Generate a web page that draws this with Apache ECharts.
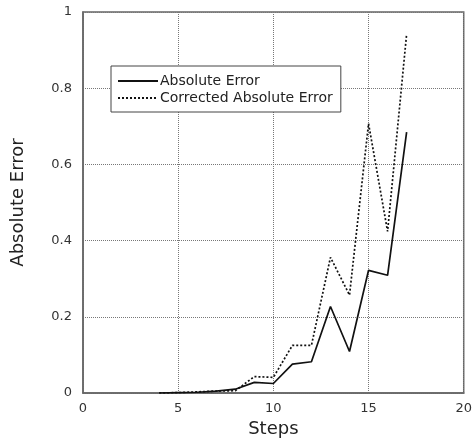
<!DOCTYPE html>
<html>
<head>
<meta charset="utf-8">
<script src="https://cdn.jsdelivr.net/npm/echarts@6/dist/echarts.min.js"></script>
<style>
  html, body { margin: 0; padding: 0; background: #fff; }
  #chart { width: 475px; height: 443px; }
</style>
</head>
<body>
<div id="chart"></div>
<script>
  // 数据
  const steps = [4, 5, 6, 7, 8, 9, 10, 11, 12, 13, 14, 15, 16, 17];
  const absError = [0, 0.001, 0.002, 0.005, 0.010, 0.028, 0.025, 0.076, 0.082, 0.227, 0.109, 0.322, 0.309, 0.685];
  const correctedError = [0, 0.001, 0.003, 0.005, 0.006, 0.043, 0.041, 0.125, 0.125, 0.356, 0.257, 0.707, 0.424, 0.942];
  const seriesNames = ['Absolute Error', 'Corrected Absolute Error'];

  const font = 'DejaVu Sans';
  const pair = arr => steps.map((s, i) => [s, arr[i]]);

  const chart = echarts.init(document.getElementById('chart'));
  chart.setOption({
    animation: false,
    textStyle: { fontFamily: font },
    grid: {
      left: 83, right: 7, top: 12, bottom: 48,
      show: true, borderColor: '#666', borderWidth: 1.5
    },
    legend: {
      orient: 'vertical',
      left: 111, top: 66,
      itemWidth: 40, itemHeight: 14, itemGap: 3,
      padding: [8, 8, 7, 6],
      borderColor: '#444', borderWidth: 1,
      backgroundColor: '#fff',
      itemStyle: { opacity: 0 }, // 图例只显示线
      textStyle: { fontFamily: font, fontSize: 14, color: '#222', padding: [0, 0, 0, -3] },
      data: seriesNames
    },
    xAxis: {
      type: 'value', min: 0, max: 20, interval: 5,
      name: 'Steps', nameLocation: 'middle', nameGap: 27,
      nameTextStyle: { fontFamily: font, fontSize: 18, color: '#222' },
      axisLine: { show: true, lineStyle: { color: '#666', width: 1.5 } },
      axisTick: { show: false },
      axisLabel: { fontFamily: font, fontSize: 13, color: '#333', margin: 9 },
      splitLine: { show: true, lineStyle: { type: 'dotted', color: '#777', width: 1 } }
    },
    yAxis: {
      type: 'value', min: 0, max: 1, interval: 0.2,
      name: 'Absolute Error', nameLocation: 'middle', nameGap: 56,
      nameTextStyle: { fontFamily: font, fontSize: 18, color: '#222' },
      axisLine: { show: true, lineStyle: { color: '#666', width: 1.5 } },
      axisTick: { show: false },
      axisLabel: { fontFamily: font, fontSize: 13, color: '#333', margin: 11 },
      splitLine: { show: true, lineStyle: { type: 'dotted', color: '#777', width: 1 } }
    },
    series: [
      {
        name: seriesNames[0], type: 'line', symbol: 'none',
        lineStyle: { color: '#111', width: 1.7, type: 'solid' },
        itemStyle: { color: '#111' },
        data: pair(absError)
      },
      {
        name: seriesNames[1], type: 'line', symbol: 'none',
        lineStyle: { color: '#111', width: 1.7, type: [2, 2] },
        itemStyle: { color: '#111' },
        data: pair(correctedError)
      }
    ]
  });
</script>
</body>
</html>
